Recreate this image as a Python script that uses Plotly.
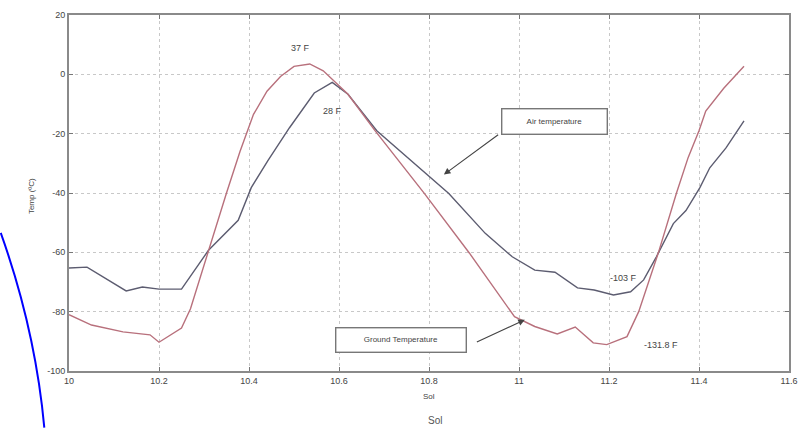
import plotly.graph_objects as go

# ---- data ----
ground_sol = [10.00, 10.05, 10.12, 10.18, 10.20, 10.25, 10.27, 10.31, 10.35, 10.38, 10.41,
              10.44, 10.47, 10.50, 10.535, 10.565, 10.62, 10.68, 10.79, 10.89, 10.99,
              11.035, 11.085, 11.125, 11.165, 11.195, 11.24, 11.266, 11.31, 11.35, 11.376,
              11.40, 11.415, 11.455, 11.50]
ground_temp = [-81, -84.5, -86.8, -87.8, -90.3, -85.5, -79, -59.3, -40, -26, -13.5,
               -5.7, -0.7, 2.7, 3.5, 1.2, -6.7, -19, -40.2, -60.3, -81.7,
               -85, -87.5, -85.2, -90.5, -91.1, -88.4, -80, -60, -40, -28,
               -19, -12.4, -4.7, 2.7]

air_sol = [10.00, 10.04, 10.127, 10.163, 10.20, 10.25, 10.31, 10.376, 10.405, 10.442, 10.49,
           10.545, 10.585, 10.62, 10.684, 10.844, 10.925, 10.985, 11.035, 11.08, 11.13,
           11.167, 11.21, 11.248, 11.277, 11.305, 11.343, 11.371, 11.402, 11.424, 11.46, 11.50]
air_temp = [-65.3, -65, -73, -71.7, -72.4, -72.4, -59.3, -49.2, -38.2, -29.1, -18,
            -6.3, -2.7, -6.7, -19, -40.2, -53.6, -61.5, -66, -66.7, -72,
            -72.7, -74.4, -73.3, -69.3, -61.6, -50.3, -45.9, -38.2, -31.5, -24.8, -15.7]

x_ticks = [10, 10.2, 10.4, 10.6, 10.8, 11, 11.2, 11.4, 11.6]
x_tick_labels = ["10", "10.2", "10.4", "10.6", "10.8", "11", "11.2", "11.4", "11.6"]
y_ticks = [-100, -80, -60, -40, -20, 0, 20]
y_tick_labels = ["-100", "-80", "-60", "-40", "-20", "0", "20"]

# annotation labels and anchor points
peak_labels = ["37 F", "28 F", "-103 F", "-131.8 F"]
peak_x = [10.515, 10.585, 11.232, 11.316]
peak_y = [8.8, -12.3, -68.5, -91.1]

FONT = "Liberation Sans, Arial, sans-serif"
TXT = "#444444"

fig = go.Figure()
fig.add_trace(go.Scatter(x=air_sol, y=air_temp, mode="lines",
                         line=dict(color="#5c5c70", width=1.4), name="Air temperature"))
fig.add_trace(go.Scatter(x=ground_sol, y=ground_temp, mode="lines",
                         line=dict(color="#b8707c", width=1.4), name="Ground Temperature"))

annotations = []
for t, xx, yy in zip(peak_labels, peak_x, peak_y):
    annotations.append(dict(x=xx, y=yy, xref="x", yref="y", text=t, showarrow=False,
                            font=dict(size=9, color=TXT, family=FONT)))

# labelled boxes
annotations.append(dict(x=11.079, y=-15.8, xref="x", yref="y", text="Air temperature",
                        showarrow=False, font=dict(size=8, color=TXT, family=FONT),
                        bordercolor="#777777", borderwidth=1.4, borderpad=2,
                        width=100, height=20, bgcolor="white"))
annotations.append(dict(x=10.738, y=-89.4, xref="x", yref="y", text="Ground Temperature",
                        showarrow=False, font=dict(size=8, color=TXT, family=FONT),
                        bordercolor="#777777", borderwidth=1.4, borderpad=2,
                        width=125, height=19, bgcolor="white"))
# arrows
annotations.append(dict(x=10.833, y=-33.8, xref="x", yref="y", ax=10.957, ay=-20.0,
                        axref="x", ayref="y", text="", showarrow=True, arrowhead=2,
                        arrowsize=1.2, arrowwidth=1.1, arrowcolor="#444444"))
annotations.append(dict(x=11.013, y=-82.7, xref="x", yref="y", ax=10.903, ay=-90.5,
                        axref="x", ayref="y", text="", showarrow=True, arrowhead=2,
                        arrowsize=1.2, arrowwidth=1.1, arrowcolor="#444444"))

# axis titles
annotations.append(dict(x=-0.052, y=0.49, xref="paper", yref="paper", text="Temp (ºC)",
                        textangle=-90, showarrow=False, xanchor="center", yanchor="middle",
                        font=dict(size=8, color=TXT, family=FONT)))
annotations.append(dict(x=0.5, y=-0.072, xref="paper", yref="paper", text="Sol",
                        showarrow=False, xanchor="center", yanchor="middle",
                        font=dict(size=8, color=TXT, family=FONT)))
annotations.append(dict(x=0.508, y=-0.14, xref="paper", yref="paper", text="Sol",
                        showarrow=False, xanchor="center", yanchor="middle",
                        font=dict(size=10, color="#555555", family=FONT)))

axis_common = dict(showline=True, linecolor="#8a8a8a", linewidth=1.8, mirror="ticks",
                   ticks="inside", ticklen=4, tickcolor="#777777",
                   showgrid=True, gridcolor="#c8c8c8", griddash="dot", gridwidth=1,
                   zeroline=False, tickfont=dict(size=9, color=TXT, family=FONT))

fig.update_layout(
    width=807, height=428,
    margin=dict(l=69, r=10, t=13, b=57),
    paper_bgcolor="white", plot_bgcolor="white",
    showlegend=False,
    xaxis=dict(range=[10, 11.6], tickvals=x_ticks, ticktext=x_tick_labels, **axis_common),
    yaxis=dict(range=[-100, 20], tickvals=y_ticks, ticktext=y_tick_labels, **axis_common),
    annotations=annotations,
    shapes=[dict(type="path", xref="paper", yref="paper",
                 path="M -0.0948,0.388 Q -0.0467,0.115 -0.0343,-0.159",
                 line=dict(color="#0000ff", width=2))],
)

fig.write_html("out.html", config={"displayModeBar": False},
               post_script="document.body.style.margin='0';document.body.style.overflow='hidden';")
